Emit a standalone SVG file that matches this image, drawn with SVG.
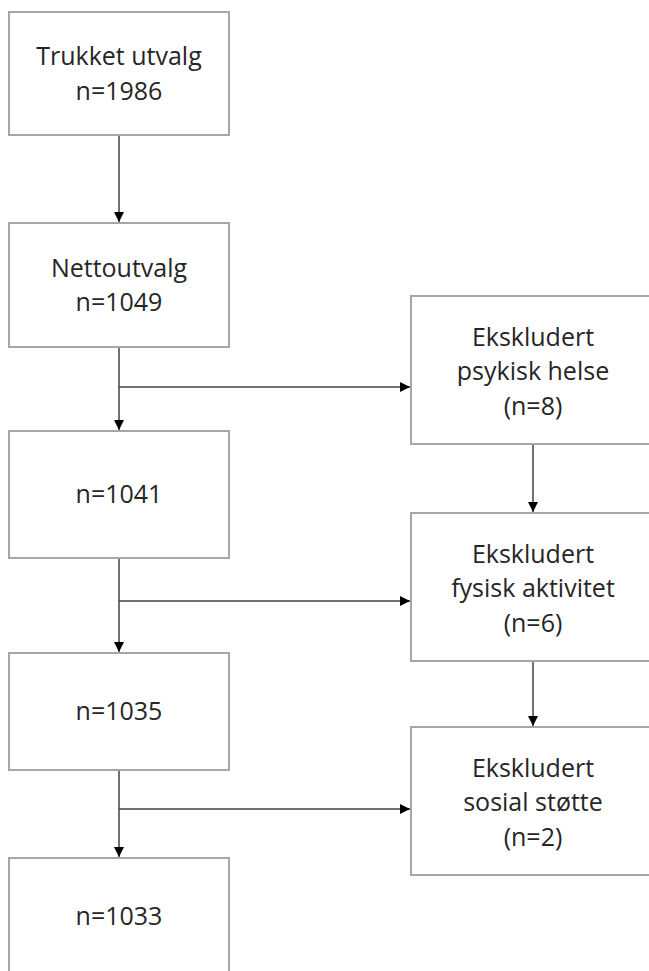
<svg xmlns="http://www.w3.org/2000/svg" width="649" height="971" viewBox="0 0 649 971">
  <defs>
    <marker id="ah" viewBox="0 0 10 10" refX="10" refY="5" markerWidth="10" markerHeight="10" markerUnits="userSpaceOnUse" orient="auto">
      <path d="M0,0 L10,5 L0,10 Z" fill="#000"/>
    </marker>
    <style>
      .box { fill: #fff; stroke: #a6a6a6; stroke-width: 2; }
      .t { font-family: "Open Sans", "Liberation Sans", sans-serif; font-size: 25px; fill: #262626; text-anchor: middle; }
      .c { fill: none; stroke: #404040; stroke-width: 1.5; }
    </style>
  </defs>
  <rect width="649" height="971" fill="#fff"/>

  <g id="connectors">
    <line class="c" x1="119" y1="135" x2="119" y2="222" marker-end="url(#ah)"/>
    <line class="c" x1="119" y1="347" x2="119" y2="430" marker-end="url(#ah)"/>
    <line class="c" x1="119" y1="387" x2="410" y2="387" marker-end="url(#ah)"/>
    <line class="c" x1="119" y1="558" x2="119" y2="652" marker-end="url(#ah)"/>
    <line class="c" x1="119" y1="601" x2="410" y2="601" marker-end="url(#ah)"/>
    <line class="c" x1="119" y1="770" x2="119" y2="857" marker-end="url(#ah)"/>
    <line class="c" x1="119" y1="809" x2="410" y2="809" marker-end="url(#ah)"/>
    <line class="c" x1="533" y1="444" x2="533" y2="512" marker-end="url(#ah)"/>
    <line class="c" x1="533" y1="661" x2="533" y2="726" marker-end="url(#ah)"/>
  </g>

  <g id="n1986">
    <rect class="box" x="9" y="12" width="220" height="123"/>
    <text class="t" x="119" y="65">Trukket utvalg</text>
    <text class="t" x="119" y="100">n=1986</text>
  </g>
  <g id="n1049">
    <rect class="box" x="9" y="223" width="220" height="124"/>
    <text class="t" x="119" y="277">Nettoutvalg</text>
    <text class="t" x="119" y="311">n=1049</text>
  </g>
  <g id="n1041">
    <rect class="box" x="9" y="431" width="220" height="127"/>
    <text class="t" x="119" y="503">n=1041</text>
  </g>
  <g id="n1035">
    <rect class="box" x="9" y="653" width="220" height="117"/>
    <text class="t" x="119" y="720">n=1035</text>
  </g>
  <g id="n1033">
    <rect class="box" x="9" y="858" width="220" height="130"/>
    <text class="t" x="119" y="925">n=1033</text>
  </g>

  <g id="ex-psykisk">
    <rect class="box" x="411" y="296" width="246" height="148"/>
    <text class="t" x="533" y="346">Ekskludert</text>
    <text class="t" x="533" y="380">psykisk helse</text>
    <text class="t" x="533" y="415">(n=8)</text>
  </g>
  <g id="ex-fysisk">
    <rect class="box" x="411" y="513" width="246" height="148"/>
    <text class="t" x="533" y="563">Ekskludert</text>
    <text class="t" x="533" y="597">fysisk aktivitet</text>
    <text class="t" x="533" y="632">(n=6)</text>
  </g>
  <g id="ex-sosial">
    <rect class="box" x="411" y="727" width="246" height="148"/>
    <text class="t" x="533" y="777">Ekskludert</text>
    <text class="t" x="533" y="811">sosial støtte</text>
    <text class="t" x="533" y="846">(n=2)</text>
  </g>
</svg>
